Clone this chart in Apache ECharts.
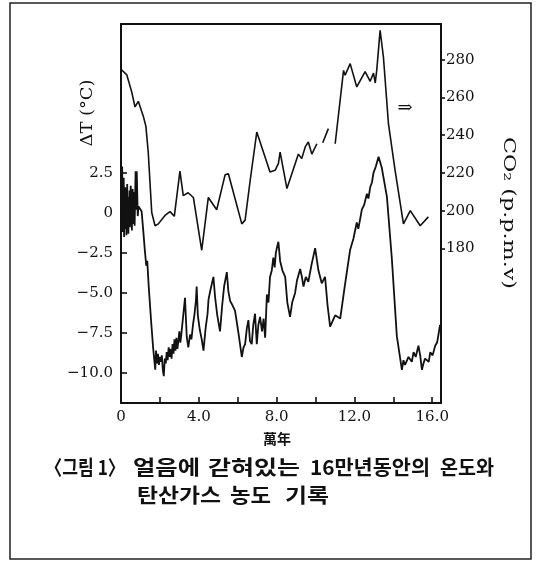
<!DOCTYPE html>
<html>
<head>
<meta charset="utf-8">
<script src="https://cdn.jsdelivr.net/npm/echarts@6/dist/echarts.min.js"></script>
<style>html,body{margin:0;padding:0;background:#fff}#c{width:542px;height:562px}</style>
</head>
<body>
<div id="c"></div>
<script>
// x in units of 10,000 years
var xTickValues = [0, 2, 4, 6, 8, 10, 12, 14, 16];
var xLabelValues = [0, 4, 8, 12, 16];
var xLabels = ['0', '4.0', '8.0', '12.0', '16.0'];
var tempLabelValues = [-10, -7.5, -5, -2.5, 0, 2.5];
var tempLabels = ['\u221210.0', '\u22127.5', '\u22125.0', '\u22122.5', '0', '2.5'];
var co2LabelValues = [180, 200, 220, 240, 260, 280];
var co2Labels = ['180', '200', '220', '240', '260', '280'];

// temperature anomaly (°C)
var tempYears = [0.00,0.02,0.04,0.06,0.08,0.10,0.12,0.14,0.16,0.18,0.20,0.22,0.24,0.26,0.28,0.30,0.32,0.34,0.36,0.38,0.40,0.42,0.44,0.46,0.48,0.50,0.52,0.54,0.56,0.58,0.60,0.62,0.64,0.66,0.68,0.70,0.72,0.75,0.78,0.81,0.86,0.90,
 1.06,1.15,1.23,1.30,1.35,1.42,1.55,1.65,1.72,1.76,1.80,1.85,1.90,1.95,2.00,2.05,2.10,2.15,2.20,2.25,2.30,2.35,2.40,2.45,2.50,2.55,2.60,2.65,2.70,2.75,2.80,2.85,2.90,2.95,3.00,3.05,3.10,
 3.29,3.38,3.46,3.55,3.62,3.70,3.78,3.85,3.89,3.95,4.05,4.15,4.24,4.35,4.45,4.50,4.60,4.75,4.84,4.95,5.09,5.20,5.30,5.44,5.52,5.61,5.70,5.86,5.95,6.05,6.21,6.30,6.38,6.47,6.55,6.63,6.72,6.80,6.89,6.98,7.06,7.15,7.25,7.33,7.41,7.50,7.58,7.66,7.75,7.83,7.90,7.96,8.03,8.09,8.18,8.30,8.44,8.55,8.69,8.80,8.95,9.05,9.21,9.30,9.38,9.50,9.63,9.80,9.98,10.15,10.32,10.49,10.62,10.75,11.01,11.27,11.50,11.78,11.95,12.12,12.20,12.29,12.38,12.50,12.64,12.72,12.81,12.90,12.98,13.10,13.24,13.41,13.67,13.92,14.18,14.44,14.52,14.60,14.70,14.78,14.87,14.95,15.04,15.15,15.29,15.38,15.47,15.55,15.63,15.73,15.82,15.90,16.02,16.15,16.25,16.32,16.40];
var tempValues = [-1.9,1.5,-0.8,2.9,-1.2,1.0,-0.5,2.2,-1.5,0.8,-1.0,1.6,-0.3,1.2,-1.4,0.6,1.8,-0.6,1.0,-1.3,0.9,-0.2,1.4,-0.9,0.5,1.7,-0.4,1.1,-1.1,0.7,1.5,-0.7,0.9,-0.3,1.3,-0.8,0.5,2.6,0.2,2.6,-0.2,0.4,
 0.1,-1.2,-2.4,-3.3,-3.0,-4.5,-6.8,-8.4,-9.3,-9.8,-8.6,-9.4,-8.8,-9.5,-9.0,-9.3,-8.9,-9.8,-10.2,-9.1,-9.4,-8.7,-9.2,-8.4,-9.0,-8.5,-9.1,-8.2,-8.8,-7.9,-8.6,-7.8,-8.5,-8.0,-7.4,-8.1,-7.6,
 -5.3,-7.75,-8.4,-7.6,-7.9,-7.0,-6.3,-5.5,-4.6,-6.4,-7.3,-7.9,-8.6,-7.2,-6.3,-5.4,-4.8,-4.0,-5.3,-6.4,-7.4,-5.8,-4.6,-3.7,-4.9,-5.5,-5.7,-6.1,-6.8,-7.6,-9.0,-8.4,-8.2,-7.2,-6.7,-8.0,-8.2,-7.0,-6.3,-8.2,-7.0,-6.5,-7.4,-6.6,-7.8,-5.1,-5.6,-4.0,-3.6,-2.8,-3.4,-2.5,-2.1,-1.8,-3.0,-3.6,-4.0,-5.6,-6.5,-5.6,-5.0,-4.2,-3.5,-4.0,-4.6,-4.0,-4.3,-3.2,-2.2,-3.6,-4.4,-4.0,-5.8,-7.1,-6.4,-6.6,-4.6,-2.3,-1.6,-0.6,-1.0,-0.4,0.2,0.5,1.2,0.9,1.6,1.9,2.5,2.9,3.5,2.8,1.0,-2.8,-7.7,-9.8,-9.2,-9.5,-9.4,-9.0,-9.1,-9.3,-8.7,-9.0,-8.3,-8.9,-9.8,-9.4,-9.1,-9.0,-9.3,-8.7,-8.9,-8.3,-8.1,-7.6,-7.0];

// CO2 concentration (p.p.m.v); null marks gaps in the record
var co2Years = [0.00,0.30,0.55,0.72,0.89,1.15,1.28,1.40,1.58,1.75,1.92,2.26,2.52,2.74,3.03,3.20,3.45,3.72,4.15,4.49,4.92,5.35,5.52,6.21,6.38,6.64,6.98,7.66,7.92,8.09,8.18,8.53,9.12,9.29,9.47,9.63,9.81,10.07,10.20,10.37,10.66,10.85,11.01,11.44,11.52,11.78,12.12,12.55,12.81,12.98,13.07,13.15,13.32,13.49,13.75,14.09,14.52,14.87,15.38,15.80];
var co2Values = [275,272,263,255,258,250,244.7,231,199,192,193,197.5,199.5,197,221,208,209.5,207,179,207,200.5,219,219.6,193,195,216,241.7,220.5,221.4,225,231,211.7,230,227.6,233.8,236.4,230,235.5,null,236,243.5,null,235.5,274.4,271.8,278,265.6,273.8,268.6,273,267.7,274.8,295.6,281.5,246,221.4,193,200,192,196.7];

function zip(xs, ys) { return xs.map(function (x, i) { return [x, ys[i]]; }); }
function labelFor(values, labels) {
  return function (v) { var i = values.indexOf(v); return i < 0 ? '' : labels[i]; };
}

var serif = '"DejaVu Serif", "Liberation Serif", serif';
var kr = '"Noto Sans CJK KR", sans-serif';
var measureCtx = document.createElement('canvas').getContext('2d');
function measure(text, size, family, weight) {
  measureCtx.font = (weight || 'normal') + ' ' + size + 'px ' + family;
  return measureCtx.measureText(text).width;
}
// text stretched along its baseline to span a given length
function fitText(text, x, y, width, size, family, weight, rot) {
  var w = measure(text, size, family, weight);
  var el = { type: 'text', x: x, y: y, scaleX: width / w, style: { text: text, fontFamily: family, fontWeight: weight || 'normal', fontSize: size, fill: '#111', align: rot ? 'center' : 'left', verticalAlign: 'middle' } };
  if (rot) el.rotation = rot;
  return el;
}

var captionWords = [
  ['\u3008\uADF8\uB9BC 1\u3009', 45, 467, 80],
  ['\uC5BC\uC74C\uC5D0', 133, 467, 67],
  ['\uAC07\uD600\uC788\uB294', 208, 467, 92],
  ['16\uB9CC\uB144\uB3D9\uC548\uC758', 310, 467, 120],
  ['\uC628\uB3C4\uC640', 440, 467, 54],
  ['\uD0C4\uC0B0\uAC00\uC2A4', 137, 495, 84],
  ['\uB18D\uB3C4', 230, 495, 41],
  ['\uAE30\uB85D', 285, 495, 44]
];

var graphics = [
  { type: 'rect', shape: { x: 10, y: 3, width: 521, height: 556 }, style: { fill: 'none', stroke: '#222', lineWidth: 1.5 }, silent: true },
  fitText('\u0394T (\u00B0C)', 88, 113, 67, 16, serif, 'normal', Math.PI / 2),
  fitText('CO\u2082 (p.p.m.v)', 508, 213, 152, 17, serif, 'normal', -Math.PI / 2),
  { type: 'text', x: 405, y: 108, style: { text: '\u21D2', fontFamily: serif, fontSize: 18, fill: '#111', align: 'center', verticalAlign: 'middle' } },
  { type: 'text', x: 277, y: 439, style: { text: '\u842C\u5E74', fontFamily: kr, fontWeight: 'bold', fontSize: 14, fill: '#111', align: 'center', verticalAlign: 'middle' } }
];
captionWords.forEach(function (c) { graphics.push(fitText(c[0], c[1], c[2], c[3], 20, kr, 'bold')); });

var gridLeft = 121, gridRight = 101, gridTop = 24, gridBottom = 159;
var plotW = 542 - gridLeft - gridRight, plotH = 562 - gridTop - gridBottom;
var xMin = 0, xMax = 16.45, tMin = -11.875, tMax = 11.8;
var tickPx = 6;
var xTickLen = tickPx * (tMax - tMin) / plotH;   // in temperature units
var yTickLen = tickPx * (xMax - xMin) / plotW;   // in year units
// inward tick marks on the bottom and left edges, placed through the axes' scales
var tickLines = [];
xTickValues.forEach(function (v) { tickLines.push([{ coord: [v, tMin] }, { coord: [v, tMin + xTickLen] }]); });
tempLabelValues.forEach(function (v) { tickLines.push([{ coord: [xMin, v] }, { coord: [xMin + yTickLen, v] }]); });

var tick = { color: '#111', width: 1.6 };
var axisLine = { show: true, onZero: false, lineStyle: { color: '#111', width: 2 } };
var chart = echarts.init(document.getElementById('c'), null, { renderer: 'canvas' });
chart.setOption({
  animation: false,
  backgroundColor: '#fff',
  grid: { left: gridLeft, right: gridRight, top: gridTop, bottom: gridBottom, show: false, containLabel: false },
  xAxis: [{
    type: 'value', min: xMin, max: xMax, position: 'bottom',
    axisLine: axisLine, splitLine: { show: false }, axisTick: { show: false },
    axisLabel: { customValues: xLabelValues, formatter: labelFor(xLabelValues, xLabels), color: '#111', fontFamily: serif, fontSize: 15, margin: 7 }
  }, {
    type: 'value', min: xMin, max: xMax, position: 'top',
    axisLine: axisLine, axisTick: { show: false }, axisLabel: { show: false }, splitLine: { show: false }
  }],
  yAxis: [{
    type: 'value', min: tMin, max: tMax, position: 'left',
    axisLine: axisLine, splitLine: { show: false }, axisTick: { show: false },
    axisLabel: { customValues: tempLabelValues, formatter: labelFor(tempLabelValues, tempLabels), color: '#111', fontFamily: serif, fontSize: 15, margin: 8 }
  }, {
    type: 'value', min: 98, max: 299, position: 'right',
    axisLine: axisLine, splitLine: { show: false },
    axisTick: { show: true, inside: false, length: 4, customValues: co2LabelValues, lineStyle: tick },
    axisLabel: { customValues: co2LabelValues, formatter: labelFor(co2LabelValues, co2Labels), color: '#111', fontFamily: serif, fontSize: 15, margin: 5 }
  }],
  series: [{
    type: 'line', xAxisIndex: 0, yAxisIndex: 0, data: zip(tempYears, tempValues), showSymbol: false, symbol: 'none',
    lineStyle: { color: '#111', width: 1.8 },
    markLine: { silent: true, symbol: ['none', 'none'], label: { show: false }, lineStyle: { color: '#111', width: 1.6, type: 'solid' }, emphasis: { disabled: true }, data: tickLines }
  }, {
    type: 'line', xAxisIndex: 0, yAxisIndex: 1, data: zip(co2Years, co2Values), showSymbol: false, symbol: 'none', connectNulls: false,
    lineStyle: { color: '#111', width: 1.6 }
  }],
  graphic: graphics
});
</script>
</body>
</html>
